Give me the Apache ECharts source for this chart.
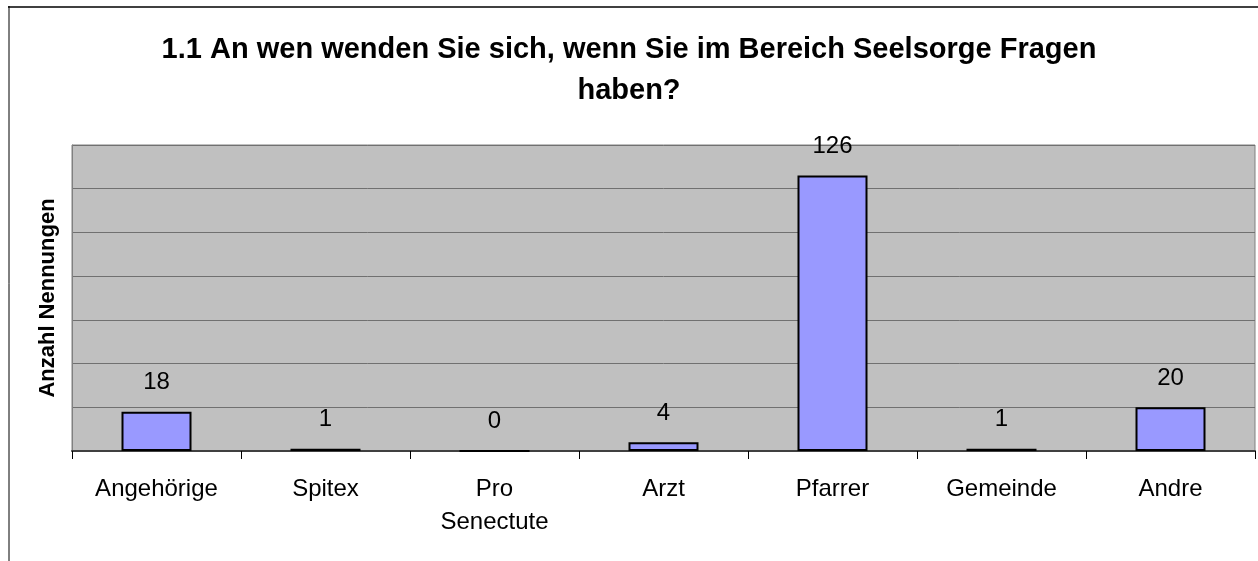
<!DOCTYPE html>
<html>
<head>
<meta charset="utf-8">
<script src="https://cdn.jsdelivr.net/npm/echarts@6/dist/echarts.min.js"></script>
<style>
  html, body { margin: 0; padding: 0; background: #fff; }
  #chart { width: 1258px; height: 561px; }
</style>
</head>
<body>
<div id="chart"></div>
<script>
  // Kategorien und Anzahl Nennungen
  var categories = ['Angehörige', 'Spitex', 'Pro\nSenectute', 'Arzt', 'Pfarrer', 'Gemeinde', 'Andre']
  var counts = [18, 1, 0, 4, 126, 1, 20]
  var yMax = 140
  var yStep = 20

  var font = "'Liberation Sans', Arial, sans-serif"
  var myChart = echarts.init(document.getElementById('chart'))

  var option = {
      backgroundColor: '#fff',
      animation: false,
      title: {
          text: '1.1 An wen wenden Sie sich, wenn Sie im Bereich Seelsorge Fragen\nhaben?',
          left: 'center',
          top: 24,
          textStyle: {
              fontFamily: font,
              fontSize: 29,
              fontWeight: 'bold',
              color: '#000',
              lineHeight: 41
          }
      },
      graphic: [
          // Rahmen oben und links
          { type: 'line', shape: { x1: 8, y1: 7, x2: 1258, y2: 7 }, style: { stroke: '#404040', lineWidth: 2 } },
          { type: 'line', shape: { x1: 9, y1: 6, x2: 9, y2: 561 }, style: { stroke: '#000', lineWidth: 1 } }
      ],
      grid: {
          left: 72,
          right: 3,
          top: 145,
          bottom: 110,
          show: true,
          backgroundColor: '#C0C0C0',
          borderColor: '#808080',
          borderWidth: 1
      },
      xAxis: {
          type: 'category',
          data: categories,
          axisLine: { lineStyle: { color: '#404040', width: 2 } },
          axisTick: { show: true, length: 8, lineStyle: { color: '#000' } },
          axisLabel: {
              margin: 22,
              fontFamily: font,
              fontSize: 24,
              lineHeight: 33,
              color: '#000',
              interval: 0
          }
      },
      yAxis: {
          type: 'value',
          min: 0,
          max: yMax,
          interval: yStep,
          name: 'Anzahl Nennungen',
          nameLocation: 'middle',
          nameGap: 13,
          nameTextStyle: {
              fontFamily: font,
              fontSize: 22,
              fontWeight: 'bold',
              color: '#000'
          },
          axisLine: { show: true, lineStyle: { color: '#808080' } },
          axisTick: { show: false },
          axisLabel: { show: false },
          splitLine: { lineStyle: { color: '#707070', width: 1 } }
      },
      series: [{
          type: 'bar',
          data: counts,
          barWidth: 70,
          itemStyle: {
              color: '#9999FF',
              borderColor: '#000',
              borderWidth: 2
          },
          label: {
              show: true,
              position: 'top',
              distance: 17,
              fontFamily: font,
              fontSize: 24,
              color: '#000'
          }
      }]
  }
  myChart.setOption(option)
</script>
</body>
</html>
